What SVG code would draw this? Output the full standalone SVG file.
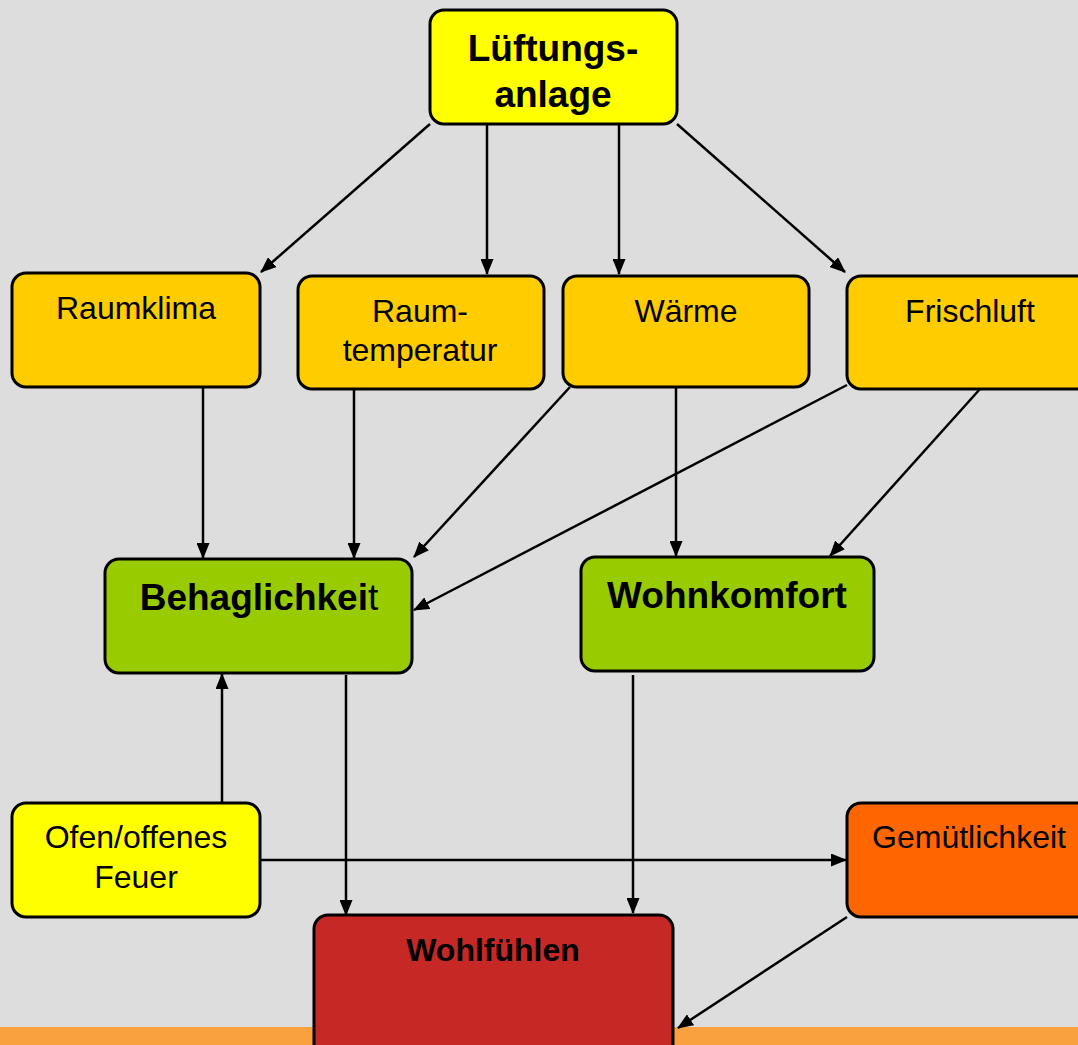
<svg xmlns="http://www.w3.org/2000/svg" width="1078" height="1045" viewBox="0 0 1078 1045">
<defs>
<marker id="ah" markerWidth="16" markerHeight="13" refX="15" refY="6.5" orient="auto" markerUnits="userSpaceOnUse">
<path d="M0,0 L16,6.5 L0,13 Z" fill="#000"/>
</marker>
<style>
.box{stroke:#000;stroke-width:3}
.t{font-family:"Liberation Sans",Arial,sans-serif;font-size:32px;text-anchor:middle;fill:#000}
.b{font-weight:bold;font-size:37px}
.bs{font-weight:bold;font-size:32px}
.c{stroke:#000;stroke-width:2.5;fill:none;marker-end:url(#ah)}
</style>
</defs>
<rect width="1078" height="1045" fill="#DDDDDD"/>
<rect x="0" y="1027" width="1078" height="18" fill="#F9A03F"/>
<g id="connectors">
<line class="c" x1="430" y1="124" x2="261" y2="272"/>
<line class="c" x1="487" y1="124" x2="487" y2="274"/>
<line class="c" x1="619" y1="124" x2="619" y2="274"/>
<line class="c" x1="677" y1="124" x2="845" y2="272"/>
<line class="c" x1="203" y1="388" x2="203" y2="558"/>
<line class="c" x1="354" y1="389" x2="354" y2="558"/>
<line class="c" x1="570" y1="387" x2="414" y2="557"/>
<line class="c" x1="847" y1="385" x2="414" y2="610"/>
<line class="c" x1="676" y1="387" x2="676" y2="556"/>
<line class="c" x1="980" y1="389" x2="830" y2="556"/>
<line class="c" x1="346" y1="675" x2="346" y2="915"/>
<line class="c" x1="633" y1="675" x2="633" y2="913"/>
<line class="c" x1="222" y1="803" x2="222" y2="674"/>
<line class="c" x1="260" y1="860" x2="846" y2="860"/>
<line class="c" x1="847" y1="917" x2="678" y2="1028"/>
</g>
<g id="lueftungsanlage">
<rect class="box" x="430" y="10" width="247" height="114" rx="14" fill="#FFFF00"/>
<text class="t b" x="553" y="61">Lüftungs-</text>
<text class="t b" x="553" y="107">anlage</text>
</g>
<g id="raumklima">
<rect class="box" x="12" y="273" width="248" height="114" rx="14" fill="#FFCC00"/>
<text class="t" x="136" y="319">Raumklima</text>
</g>
<g id="raumtemperatur">
<rect class="box" x="298" y="276" width="246" height="113" rx="14" fill="#FFCC00"/>
<text class="t" x="420" y="322">Raum-</text>
<text class="t" x="420" y="361">temperatur</text>
</g>
<g id="waerme">
<rect class="box" x="563" y="276" width="246" height="111" rx="14" fill="#FFCC00"/>
<text class="t" x="686" y="322">Wärme</text>
</g>
<g id="frischluft">
<rect class="box" x="847" y="276" width="250" height="113" rx="14" fill="#FFCC00"/>
<text class="t" x="970" y="322">Frischluft</text>
</g>
<g id="behaglichkeit">
<rect class="box" x="105" y="559" width="307" height="114" rx="14" fill="#99CC00"/>
<text class="t b" x="259" y="610">Behaglichkei<tspan font-weight="normal">t</tspan></text>
</g>
<g id="wohnkomfort">
<rect class="box" x="581" y="557" width="293" height="114" rx="14" fill="#99CC00"/>
<text class="t b" x="727" y="608">Wohnkomfort</text>
</g>
<g id="ofen">
<rect class="box" x="12" y="803" width="248" height="114" rx="14" fill="#FFFF00"/>
<text class="t" x="136" y="848">Ofen/offenes</text>
<text class="t" x="136" y="888">Feuer</text>
</g>
<g id="gemuetlichkeit">
<rect class="box" x="847" y="803" width="250" height="114" rx="14" fill="#FF6600"/>
<text class="t" x="969" y="848">Gemütlichkeit</text>
</g>
<g id="wohlfuehlen">
<rect class="box" x="314" y="915" width="359" height="150" rx="14" fill="#C62826"/>
<text class="t bs" x="493" y="961">Wohlfühlen</text>
</g>
</svg>
